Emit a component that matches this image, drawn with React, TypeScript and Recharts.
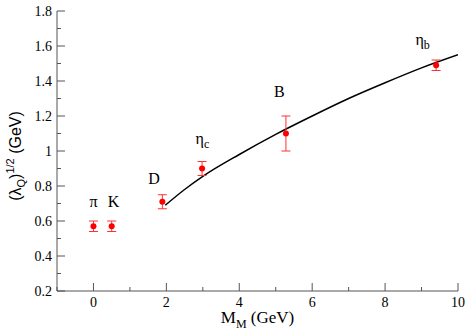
import React from "react";
import {
  ComposedChart,
  ErrorBar,
  Line,
  Scatter,
  XAxis,
  YAxis,
} from "recharts";

// mesons: mass (GeV), sqrt(lambda_Q) (GeV), error
const mesonNames = ["π", "K", "D", "η", "B", "η"];
const mesonSubs = ["", "", "", "c", "", "b"];
const mesonMass = [0, 0.5, 1.89, 2.98, 5.28, 9.4];
const mesonLambda = [0.57, 0.57, 0.71, 0.9, 1.1, 1.49];
const mesonErr = [0.03, 0.03, 0.04, 0.04, 0.1, 0.03];

// where the name labels sit (data units, text centre)
const labelX = [0, 0.55, 1.66, 2.99, 5.1, 9.03];
const labelY = [0.71, 0.71, 0.84, 1.07, 1.34, 1.635];

// fitted curve
const curveX = [1.97, 2.5, 3, 4, 5, 6, 7, 8, 9, 10];
const curveY = [0.69, 0.78, 0.855, 0.98, 1.095, 1.2, 1.3, 1.39, 1.475, 1.55];

const xTicks = [-1, 0, 1, 2, 3, 4, 5, 6, 7, 8, 9, 10];
const xMajor = [0, 2, 4, 6, 8, 10];
const yTicks = [0.2, 0.3, 0.4, 0.5, 0.6, 0.7, 0.8, 0.9, 1, 1.1, 1.2, 1.3, 1.4, 1.5, 1.6, 1.7, 1.8];
const yMajor = [0.2, 0.4, 0.6, 0.8, 1, 1.2, 1.4, 1.6, 1.8];

const points = mesonMass.map((m, i) => ({ x: m, y: mesonLambda[i], err: mesonErr[i] }));
const labels = labelX.map((x, i) => ({ x, y: labelY[i], name: mesonNames[i], sub: mesonSubs[i] }));
const curve = curveX.map((x, i) => ({ x, y: curveY[i] }));

const FRAME = "#555";
const serif = { fontFamily: '"Liberation Serif", "Times New Roman", serif' };
const sans = { fontFamily: '"Liberation Sans", Arial, sans-serif' };
const MARGIN = 5;
const isMajor = (list: number[], v: number) => list.some((m) => Math.abs(m - v) < 1e-6);

function BottomTick(props: any) {
  const { x, y, payload } = props;
  const major = isMajor(xMajor, payload.value);
  const axisY = y - MARGIN;
  return (
    <g>
      <line x1={x} x2={x} y1={axisY} y2={axisY - (major ? 8 : 4)} stroke={FRAME} />
      {major && (
        <text x={x} y={axisY + 16} textAnchor="middle" style={serif} fontSize={14} fill="#000">
          {payload.value}
        </text>
      )}
    </g>
  );
}

function TopTick(props: any) {
  const { x, y, payload } = props;
  const major = isMajor(xMajor, payload.value);
  return <line x1={x} x2={x} y1={y} y2={y + (major ? 8 : 4)} stroke={FRAME} />;
}

function LeftTick(props: any) {
  const { x, y, payload } = props;
  const major = isMajor(yMajor, payload.value);
  const axisX = x + MARGIN;
  return (
    <g>
      <line x1={axisX} x2={axisX + (major ? 8 : 4)} y1={y} y2={y} stroke={FRAME} />
      {major && (
        <text x={x} y={y + 5} textAnchor="end" style={serif} fontSize={14} fill="#000">
          {payload.value}
        </text>
      )}
    </g>
  );
}

function RightTick(props: any) {
  const { x, y, payload } = props;
  const major = isMajor(yMajor, payload.value);
  return <line x1={x} x2={x - (major ? 8 : 4)} y1={y} y2={y} stroke={FRAME} />;
}

function NameLabel(props: any) {
  const { cx, cy, payload } = props;
  return (
    <text x={cx} y={cy + 5} textAnchor="middle" style={serif} fontSize={16} fill="#000">
      {payload.name}
      {payload.sub && (
        <tspan dy={4} fontSize={12}>
          {payload.sub}
        </tspan>
      )}
    </text>
  );
}

function RedDot(props: any) {
  const { cx, cy } = props;
  return <circle cx={cx} cy={cy} r={3} fill="#ff0000" />;
}

function YLabel() {
  const cx = 21;
  const cy = 156;
  return (
    <text
      x={cx}
      y={cy}
      transform={`rotate(-90 ${cx} ${cy})`}
      textAnchor="middle"
      style={sans}
      fontSize={16}
      fill="#000"
    >
      (λ
      <tspan dy={4} fontSize={11}>Q</tspan>
      <tspan dy={-4}>)</tspan>
      <tspan dy={-7} fontSize={11}>1/2</tspan>
      <tspan dy={7}> (GeV)</tspan>
    </text>
  );
}

function XLabel(props: any) {
  const { viewBox } = props;
  const cx = viewBox.x + viewBox.width / 2;
  return (
    <text x={cx} y={323} textAnchor="middle" style={serif} fontSize={17} fill="#000">
      M
      <tspan dy={5} fontSize={12}>M</tspan>
      <tspan dy={-5}> (GeV)</tspan>
    </text>
  );
}

export default function App() {
  return (
    <div style={{ position: "absolute", left: 0, top: 0, background: "#fff" }}>
      <ComposedChart width={469} height={335} margin={{ top: 11, right: 11, left: 0, bottom: 0 }}>
        <XAxis
          xAxisId="main"
          type="number"
          dataKey="x"
          domain={[-1, 10]}
          ticks={xTicks}
          interval={0}
          allowDataOverflow
          height={44}
          tickSize={0}
          tickMargin={MARGIN}
          stroke={FRAME}
          tick={<BottomTick />}
          label={<XLabel />}
        />
        <XAxis
          xAxisId="top"
          orientation="top"
          type="number"
          dataKey="x"
          domain={[-1, 10]}
          ticks={xTicks}
          interval={0}
          allowDataOverflow
          height={0}
          tickSize={0}
          tickMargin={0}
          stroke={FRAME}
          tick={<TopTick />}
        />
        <YAxis
          yAxisId="main"
          type="number"
          dataKey="y"
          domain={[0.2, 1.8]}
          ticks={yTicks}
          interval={0}
          allowDataOverflow
          width={57}
          tickSize={0}
          tickMargin={MARGIN}
          stroke={FRAME}
          tick={<LeftTick />}
          label={<YLabel />}
        />
        <YAxis
          yAxisId="right"
          orientation="right"
          type="number"
          dataKey="y"
          domain={[0.2, 1.8]}
          ticks={yTicks}
          interval={0}
          allowDataOverflow
          width={0}
          tickSize={0}
          tickMargin={0}
          stroke={FRAME}
          tick={<RightTick />}
        />
        <Line
          xAxisId="main"
          yAxisId="main"
          data={curve}
          dataKey="y"
          type="monotone"
          stroke="#000"
          strokeWidth={1.5}
          dot={false}
          isAnimationActive={false}
        />
        <Scatter
          xAxisId="main"
          yAxisId="main"
          data={points}
          dataKey="y"
          shape={<RedDot />}
          isAnimationActive={false}
        >
          <ErrorBar dataKey="err" direction="y" width={4.5} stroke="#ff3030" strokeWidth={1} />
        </Scatter>
        <Scatter
          xAxisId="main"
          yAxisId="main"
          data={labels}
          dataKey="y"
          shape={<NameLabel />}
          isAnimationActive={false}
        />
      </ComposedChart>
    </div>
  );
}
